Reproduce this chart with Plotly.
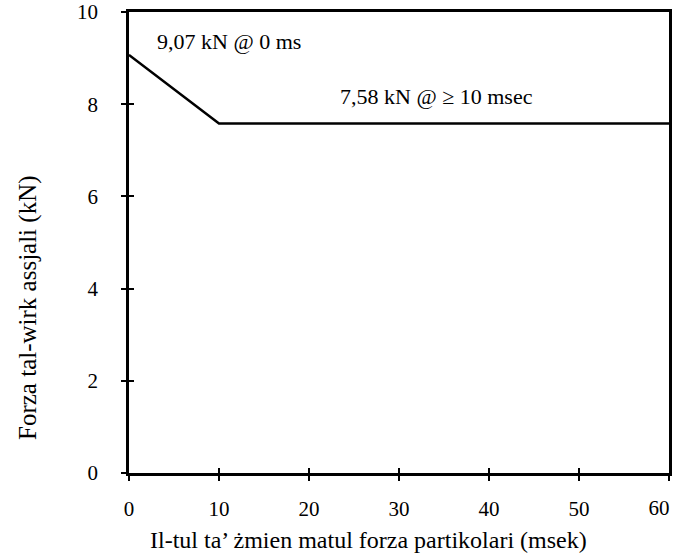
import plotly.graph_objects as go

time_ms = [0, 10, 60]
force_kN = [9.07, 7.58, 7.58]
x_ticks = [0, 10, 20, 30, 40, 50, 60]
x_tick_labels = ["0", "10", "20", "30", "40", "50", "60"]
y_ticks = [0, 2, 4, 6, 8, 10]
label_peak = "9,07 kN @ 0 ms"
label_plateau = "7,58 kN @ ≥ 10 msec"
x_title = "Il-tul ta’ żmien matul forza partikolari (msek)"
y_title = "Forza tal-wirk assjali (kN)"

FONT = "Liberation Serif"

fig = go.Figure()
fig.add_trace(go.Scatter(x=time_ms, y=force_kN, mode="lines",
                         line=dict(color="black", width=2.5), showlegend=False))
fig.add_trace(go.Scatter(x=[0], y=[0], xaxis="x2", yaxis="y2", mode="markers",
                         marker=dict(opacity=0), showlegend=False, hoverinfo="skip"))

tickfont = dict(family=FONT, size=21, color="black")

fig.update_layout(
    width=675, height=559,
    margin=dict(l=129, r=6, t=12, b=86),
    paper_bgcolor="white", plot_bgcolor="white",
    xaxis=dict(range=[0, 60], tickvals=x_ticks,
               ticktext=x_tick_labels[:-1] + [""], mirror=True,
               showgrid=False, zeroline=False, linecolor="black", linewidth=2.8,
               ticks="outside", ticklen=5, tickwidth=2, tickcolor="black",
               automargin=False, tickfont=tickfont, ticklabelstandoff=10),
    yaxis=dict(range=[0, 10], tickvals=y_ticks, mirror=True,
               showgrid=False, zeroline=False, linecolor="black", linewidth=2.8,
               ticks="outside", ticklen=5, tickwidth=2, tickcolor="black",
               automargin=False, tickfont=tickfont, ticklabelstandoff=19),
    # overlay axes: inside half of the crossing ticks, and the shifted last label
    xaxis2=dict(range=[0, 60], tickvals=x_ticks,
                ticktext=[""] * (len(x_ticks) - 1) + x_tick_labels[-1:],
                overlaying="x", side="bottom", tickfont=tickfont,
                ticklabelshift=-10, ticklabelstandoff=20,
                showgrid=False, zeroline=False, showline=False, ticks="inside",
                ticklen=5, tickwidth=2, tickcolor="black", automargin=False),
    yaxis2=dict(range=[0, 10], tickvals=y_ticks, overlaying="y", showticklabels=False,
                showgrid=False, zeroline=False, showline=False, ticks="inside",
                ticklen=5, tickwidth=2, tickcolor="black", side="left"),
    annotations=[
        dict(x=2.9, y=9.35, xref="x", yref="y", text=label_peak, showarrow=False,
             xanchor="left", yanchor="middle",
             font=dict(family=FONT, size=22, color="black")),
        dict(x=23.2, y=8.16, xref="x", yref="y", text=label_plateau, showarrow=False,
             xanchor="left", yanchor="middle",
             font=dict(family=FONT, size=22, color="black")),
        dict(x=0.443, y=-0.145, xref="paper", yref="paper", text=x_title,
             showarrow=False, xanchor="center", yanchor="middle",
             font=dict(family=FONT, size=24, color="black")),
        dict(x=-0.187, y=0.358, xref="paper", yref="paper", text=y_title,
             showarrow=False, textangle=-90, xanchor="center", yanchor="middle",
             font=dict(family=FONT, size=25, color="black")),
    ],
)

fig.write_html("out.html", config={"displayModeBar": False},
               post_script="document.body.style.margin='0';")
